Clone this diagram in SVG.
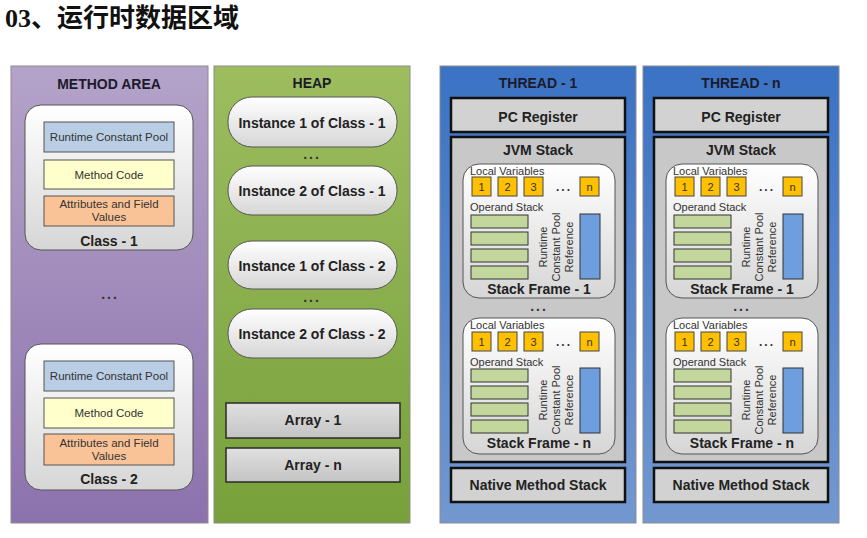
<svg xmlns="http://www.w3.org/2000/svg" width="867" height="538" viewBox="0 0 867 538">
<style>
text{font-family:"Liberation Sans",Arial,sans-serif;fill:#1e1e1e}
.hd{font-size:14px;font-weight:bold;text-anchor:middle;fill:#1b1b2b}
.b14{font-size:14px;font-weight:bold;text-anchor:middle;fill:#222}
.r11{font-size:11.5px;text-anchor:middle;fill:#333}
.sm{font-size:11px;fill:#333}
.num{font-size:11px;text-anchor:middle;fill:#333}
.rot{font-size:11px;text-anchor:middle;fill:#333}
.dots{font-size:14px;font-weight:bold;text-anchor:middle;letter-spacing:2px;fill:#333}
.panel{stroke:#8c8c8c;stroke-width:1}
.soft{fill:url(#gSoft);stroke:#555;stroke-width:1}
.gbox{fill:url(#gGray);stroke:#2a2a2a;stroke-width:1.5}
.thick{fill:#d2d2d2;stroke:#111;stroke-width:2.5}
.jvm{fill:#c8c8c8;stroke:#111;stroke-width:2.5}
.rcp{fill:#b9cde4;stroke:#555;stroke-width:1}
.mc{fill:#ffffcc;stroke:#555;stroke-width:1}
.att{fill:#fac397;stroke:#555;stroke-width:1}
.lv{fill:#ffc000;stroke:#444;stroke-width:1}
.op{fill:#c3d69b;stroke:#333;stroke-width:1}
.ref{fill:#6f9ede;stroke:#333;stroke-width:1}
</style>
<defs>
<linearGradient id="gPurple" x1="0" y1="0" x2="0" y2="1"><stop offset="0" stop-color="#b4a3c9"/><stop offset="1" stop-color="#8c72ad"/></linearGradient>
<linearGradient id="gGreen" x1="0" y1="0" x2="0" y2="1"><stop offset="0" stop-color="#9dbd5f"/><stop offset="1" stop-color="#77a03b"/></linearGradient>
<linearGradient id="gBlue" x1="0" y1="0" x2="0" y2="1"><stop offset="0" stop-color="#3b72c4"/><stop offset="1" stop-color="#7398d0"/></linearGradient>
<linearGradient id="gSoft" x1="0" y1="0" x2="0" y2="1"><stop offset="0" stop-color="#ffffff"/><stop offset="1" stop-color="#d6d6d6"/></linearGradient>
<linearGradient id="gGray" x1="0" y1="0" x2="0" y2="1"><stop offset="0" stop-color="#e0e0e0"/><stop offset="1" stop-color="#c4c4c4"/></linearGradient>
</defs>
<rect width="867" height="538" fill="#ffffff"/>
<text x="5" y="27" style="font-family:'Liberation Serif','Noto Sans CJK SC',serif;font-size:26px;font-weight:bold;fill:#111">03、运行时数据区域</text>

<g id="method-area">
<rect class="panel" x="11" y="66" width="197" height="457" fill="url(#gPurple)"/>
<text class="hd" x="109" y="89">METHOD AREA</text>
<text class="dots" x="110" y="299">...</text>
</g>
<g id="class-1">
<rect class="soft" x="25" y="105" width="168" height="145" rx="16"/>
<rect class="rcp" x="44" y="122" width="130" height="30"/>
<text class="r11" x="109" y="141">Runtime Constant Pool</text>
<rect class="mc" x="44" y="160" width="130" height="29"/>
<text class="r11" x="109" y="179">Method Code</text>
<rect class="att" x="44" y="196" width="130" height="30"/>
<text class="r11" x="109" y="208">Attributes and Field</text>
<text class="r11" x="109" y="221">Values</text>
<text class="b14" x="109" y="246">Class - 1</text>
</g>
<g id="class-2">
<rect class="soft" x="25" y="344" width="168" height="146" rx="16"/>
<rect class="rcp" x="44" y="361" width="130" height="30"/>
<text class="r11" x="109" y="380">Runtime Constant Pool</text>
<rect class="mc" x="44" y="398" width="130" height="30"/>
<text class="r11" x="109" y="417">Method Code</text>
<rect class="att" x="44" y="434" width="130" height="31"/>
<text class="r11" x="109" y="447">Attributes and Field</text>
<text class="r11" x="109" y="460">Values</text>
<text class="b14" x="109" y="484">Class - 2</text>
</g>

<g id="heap">
<rect class="panel" x="214" y="66" width="196" height="457" fill="url(#gGreen)"/>
<text class="hd" x="312" y="88">HEAP</text>
<text class="dots" x="312" y="159">...</text>
<text class="dots" x="312" y="302">...</text>
</g>
<g id="instance-1-class-1"><rect class="soft" x="228" y="97" width="169" height="50" rx="24"/><text class="b14" x="312" y="128">Instance 1 of Class - 1</text></g>
<g id="instance-2-class-1"><rect class="soft" x="228" y="166" width="169" height="49" rx="24"/><text class="b14" x="312" y="196">Instance 2 of Class - 1</text></g>
<g id="instance-1-class-2"><rect class="soft" x="228" y="241" width="169" height="48" rx="24"/><text class="b14" x="312" y="271">Instance 1 of Class - 2</text></g>
<g id="instance-2-class-2"><rect class="soft" x="228" y="309" width="169" height="49" rx="24"/><text class="b14" x="312" y="339">Instance 2 of Class - 2</text></g>
<g id="array-1"><rect class="gbox" x="226" y="403" width="174" height="35"/><text class="b14" x="313" y="425">Array - 1</text></g>
<g id="array-n"><rect class="gbox" x="226" y="448" width="174" height="34"/><text class="b14" x="313" y="470">Array - n</text></g>

<g id="thread-1">
<rect class="panel" x="440" y="66" width="196" height="457" fill="url(#gBlue)"/>
<text class="hd" x="538" y="88">THREAD - 1</text>
</g>
<g id="pc-register-1"><rect class="thick" x="451" y="98" width="174" height="34"/><text class="b14" x="538" y="122">PC Register</text></g>
<g id="jvm-stack-1">
<rect class="jvm" x="451" y="137" width="174" height="325"/>
<text class="b14" x="538" y="155">JVM Stack</text>
<text class="dots" x="539" y="311">...</text>
</g>
<g id="stack-frame-1-1">
<rect class="soft" x="463" y="164" width="152" height="134" rx="16"/>
<text class="sm" x="470" y="175">Local Variables</text>
<rect class="lv" x="472" y="177" width="19" height="19"/><text class="num" x="481.5" y="191">1</text>
<rect class="lv" x="498" y="177" width="19" height="19"/><text class="num" x="507.5" y="191">2</text>
<rect class="lv" x="524" y="177" width="19" height="19"/><text class="num" x="533.5" y="191">3</text>
<text class="dots" x="564" y="191" style="font-size:12px">...</text>
<rect class="lv" x="580" y="177" width="19" height="19"/><text class="num" x="589.5" y="191">n</text>
<text class="sm" x="470" y="211">Operand Stack</text>
<rect class="op" x="471" y="215" width="57" height="13"/>
<rect class="op" x="471" y="232" width="57" height="13"/>
<rect class="op" x="471" y="249" width="57" height="13"/>
<rect class="op" x="471" y="266" width="57" height="13"/>
<text class="rot" transform="translate(547,247) rotate(-90)">Runtime</text>
<text class="rot" transform="translate(560,247) rotate(-90)">Constant Pool</text>
<text class="rot" transform="translate(573,247) rotate(-90)">Reference</text>
<rect class="ref" x="580" y="214" width="20" height="65"/>
<text class="b14" x="539" y="294">Stack Frame - 1</text>
</g>
<g id="stack-frame-n-1">
<rect class="soft" x="463" y="318" width="152" height="136" rx="16"/>
<text class="sm" x="470" y="329">Local Variables</text>
<rect class="lv" x="472" y="332" width="19" height="19"/><text class="num" x="481.5" y="346">1</text>
<rect class="lv" x="498" y="332" width="19" height="19"/><text class="num" x="507.5" y="346">2</text>
<rect class="lv" x="524" y="332" width="19" height="19"/><text class="num" x="533.5" y="346">3</text>
<text class="dots" x="564" y="346" style="font-size:12px">...</text>
<rect class="lv" x="580" y="332" width="19" height="19"/><text class="num" x="589.5" y="346">n</text>
<text class="sm" x="470" y="366">Operand Stack</text>
<rect class="op" x="471" y="369" width="57" height="13"/>
<rect class="op" x="471" y="386" width="57" height="13"/>
<rect class="op" x="471" y="403" width="57" height="13"/>
<rect class="op" x="471" y="420" width="57" height="13"/>
<text class="rot" transform="translate(547,400) rotate(-90)">Runtime</text>
<text class="rot" transform="translate(560,400) rotate(-90)">Constant Pool</text>
<text class="rot" transform="translate(573,400) rotate(-90)">Reference</text>
<rect class="ref" x="580" y="368" width="20" height="65"/>
<text class="b14" x="539" y="448">Stack Frame - n</text>
</g>
<g id="native-method-stack-1"><rect class="thick" x="451" y="468" width="174" height="34"/><text class="b14" x="538" y="490">Native Method Stack</text></g>

<g id="thread-n">
<rect class="panel" x="643" y="66" width="196" height="457" fill="url(#gBlue)"/>
<text class="hd" x="741" y="88">THREAD - n</text>
</g>
<g id="pc-register-n"><rect class="thick" x="654" y="98" width="174" height="34"/><text class="b14" x="741" y="122">PC Register</text></g>
<g id="jvm-stack-n">
<rect class="jvm" x="654" y="137" width="174" height="325"/>
<text class="b14" x="741" y="155">JVM Stack</text>
<text class="dots" x="742" y="311">...</text>
</g>
<g id="stack-frame-1-n">
<rect class="soft" x="666" y="164" width="152" height="134" rx="16"/>
<text class="sm" x="673" y="175">Local Variables</text>
<rect class="lv" x="675" y="177" width="19" height="19"/><text class="num" x="684.5" y="191">1</text>
<rect class="lv" x="701" y="177" width="19" height="19"/><text class="num" x="710.5" y="191">2</text>
<rect class="lv" x="727" y="177" width="19" height="19"/><text class="num" x="736.5" y="191">3</text>
<text class="dots" x="767" y="191" style="font-size:12px">...</text>
<rect class="lv" x="783" y="177" width="19" height="19"/><text class="num" x="792.5" y="191">n</text>
<text class="sm" x="673" y="211">Operand Stack</text>
<rect class="op" x="674" y="215" width="57" height="13"/>
<rect class="op" x="674" y="232" width="57" height="13"/>
<rect class="op" x="674" y="249" width="57" height="13"/>
<rect class="op" x="674" y="266" width="57" height="13"/>
<text class="rot" transform="translate(750,247) rotate(-90)">Runtime</text>
<text class="rot" transform="translate(763,247) rotate(-90)">Constant Pool</text>
<text class="rot" transform="translate(776,247) rotate(-90)">Reference</text>
<rect class="ref" x="783" y="214" width="20" height="65"/>
<text class="b14" x="742" y="294">Stack Frame - 1</text>
</g>
<g id="stack-frame-n-n">
<rect class="soft" x="666" y="318" width="152" height="136" rx="16"/>
<text class="sm" x="673" y="329">Local Variables</text>
<rect class="lv" x="675" y="332" width="19" height="19"/><text class="num" x="684.5" y="346">1</text>
<rect class="lv" x="701" y="332" width="19" height="19"/><text class="num" x="710.5" y="346">2</text>
<rect class="lv" x="727" y="332" width="19" height="19"/><text class="num" x="736.5" y="346">3</text>
<text class="dots" x="767" y="346" style="font-size:12px">...</text>
<rect class="lv" x="783" y="332" width="19" height="19"/><text class="num" x="792.5" y="346">n</text>
<text class="sm" x="673" y="366">Operand Stack</text>
<rect class="op" x="674" y="369" width="57" height="13"/>
<rect class="op" x="674" y="386" width="57" height="13"/>
<rect class="op" x="674" y="403" width="57" height="13"/>
<rect class="op" x="674" y="420" width="57" height="13"/>
<text class="rot" transform="translate(750,400) rotate(-90)">Runtime</text>
<text class="rot" transform="translate(763,400) rotate(-90)">Constant Pool</text>
<text class="rot" transform="translate(776,400) rotate(-90)">Reference</text>
<rect class="ref" x="783" y="368" width="20" height="65"/>
<text class="b14" x="742" y="448">Stack Frame - n</text>
</g>
<g id="native-method-stack-n"><rect class="thick" x="654" y="468" width="174" height="34"/><text class="b14" x="741" y="490">Native Method Stack</text></g>

<g id="connectors"></g>
</svg>
